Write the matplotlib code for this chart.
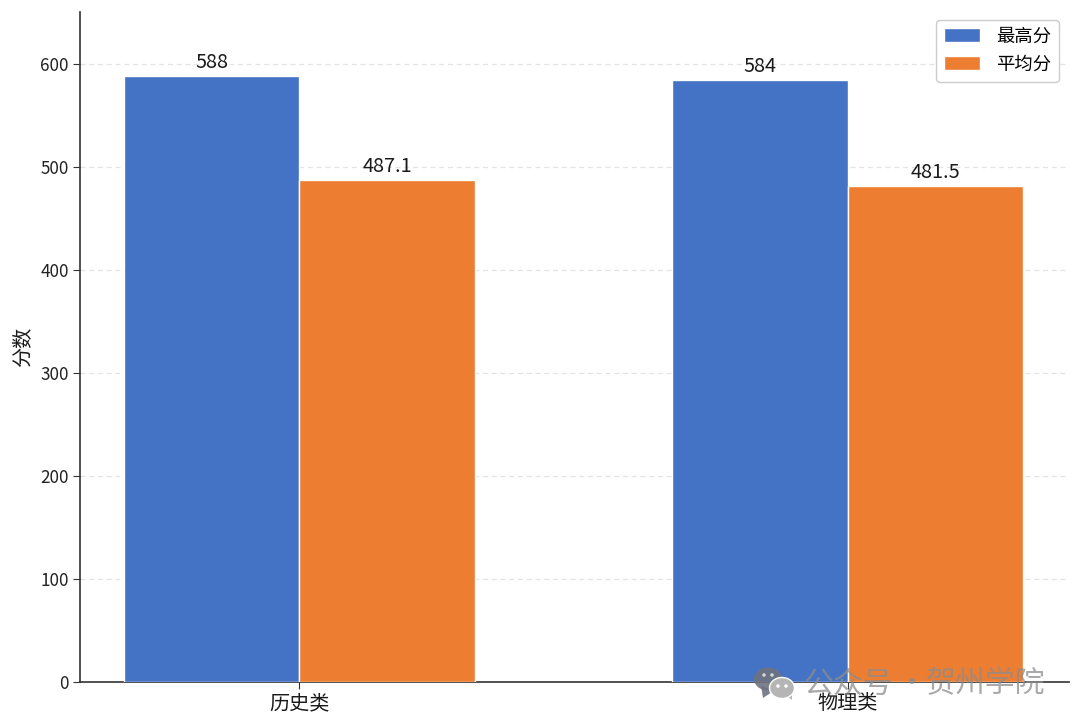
import matplotlib
matplotlib.use("Agg")
import matplotlib.pyplot as plt
from matplotlib.patches import Ellipse, Polygon
import numpy as np

plt.rcParams['font.family'] = ['Noto Sans CJK SC', 'DejaVu Sans']

categories = ["历史类", "物理类"]
max_scores = [588, 584]
avg_scores = [487.1, 481.5]
avg_labels = ["487.1", "481.5"]
max_labels = ["588", "584"]
y_ticks = [0, 100, 200, 300, 400, 500, 600]

BLUE = "#4472C4"
ORANGE = "#ED7D31"
width = 0.32

fig = plt.figure(figsize=(10.8, 7.28), dpi=100)
ax = fig.add_axes([80 / 1080, 1 - 682 / 728, (1069 - 80) / 1080, (682 - 12) / 728])

x = np.arange(len(categories))
bars1 = ax.bar(x - width / 2, max_scores, width, color=BLUE, edgecolor="white", linewidth=1, label="最高分", zorder=3)
bars2 = ax.bar(x + width / 2, avg_scores, width, color=ORANGE, edgecolor="white", linewidth=1, label="平均分", zorder=3)

ax.bar_label(bars1, labels=max_labels, padding=2, fontsize=14.3, color="#1a1a1a")
ax.bar_label(bars2, labels=avg_labels, padding=2, fontsize=14.3, color="#1a1a1a")

ax.set_xlim(-0.4, 1.404)
ax.set_ylim(0, 650)
ax.set_xticks(x)
ax.set_xticklabels(categories, fontsize=14.5)
ax.set_yticks(y_ticks)
ax.tick_params(axis="y", labelsize=12.3, length=5, pad=3, color="#333333", labelcolor="#222222")
ax.tick_params(axis="x", length=5, pad=3, color="#333333", labelcolor="#1a1a1a")
ax.set_ylabel("分数", fontsize=14.5, color="#1a1a1a", labelpad=5)

ax.spines["top"].set_visible(False)
ax.spines["right"].set_visible(False)
ax.spines["left"].set_color("#333333")
ax.spines["bottom"].set_color("#333333")
ax.spines["left"].set_linewidth(1.2)
ax.spines["bottom"].set_linewidth(1.2)
ax.grid(axis="y", linestyle=(0, (4, 3)), color="#e4e4e4", linewidth=0.9, zorder=0)
ax.set_axisbelow(True)

ax.legend(loc="upper right", fontsize=13.2, frameon=True, framealpha=1, edgecolor="#cccccc",
          bbox_to_anchor=(0.99, 0.988), borderaxespad=0, handlelength=1.95, handleheight=0.8,
          handletextpad=0.9, labelspacing=0.55, borderpad=0.42)

# watermark, drawn over the axes in figure pixels
tr = fig.transFigure


def px(xp, yp):
    return (xp / 1080, 1 - yp / 728)


fig.add_artist(Polygon([px(761, 686), px(775, 690), px(763, 698)], transform=tr, color="#6f7380", alpha=0.9, lw=0))
fig.add_artist(Ellipse(px(768, 679), 28 / 1080, 23 / 728, transform=tr, color="#6f7380", alpha=0.9, lw=0))
fig.add_artist(Polygon([px(785, 694), px(792, 694), px(792, 700)], transform=tr, color="#b5b5b5", lw=0))
fig.add_artist(Ellipse(px(782, 688), 25 / 1080, 21 / 728, transform=tr, facecolor="#b5b5b5", edgecolor="white", lw=1))
for ex, ey, ec in [(764, 675, "#d8d8d8"), (772, 675, "#d8d8d8"), (778, 686, "white"), (786, 686, "white")]:
    fig.add_artist(Ellipse(px(ex, ey), 3.5 / 1080, 3.5 / 728, transform=tr, color=ec, lw=0))

for tx, label in [(803, "公众号"), (896, "·"), (926, "贺州学院")]:
    fig.text(tx / 1080, 1 - 684 / 728, label, fontsize=21.5, color="#8c8c8c", alpha=0.75, ha="left", va="center")

fig.savefig("out.png", dpi=100)
